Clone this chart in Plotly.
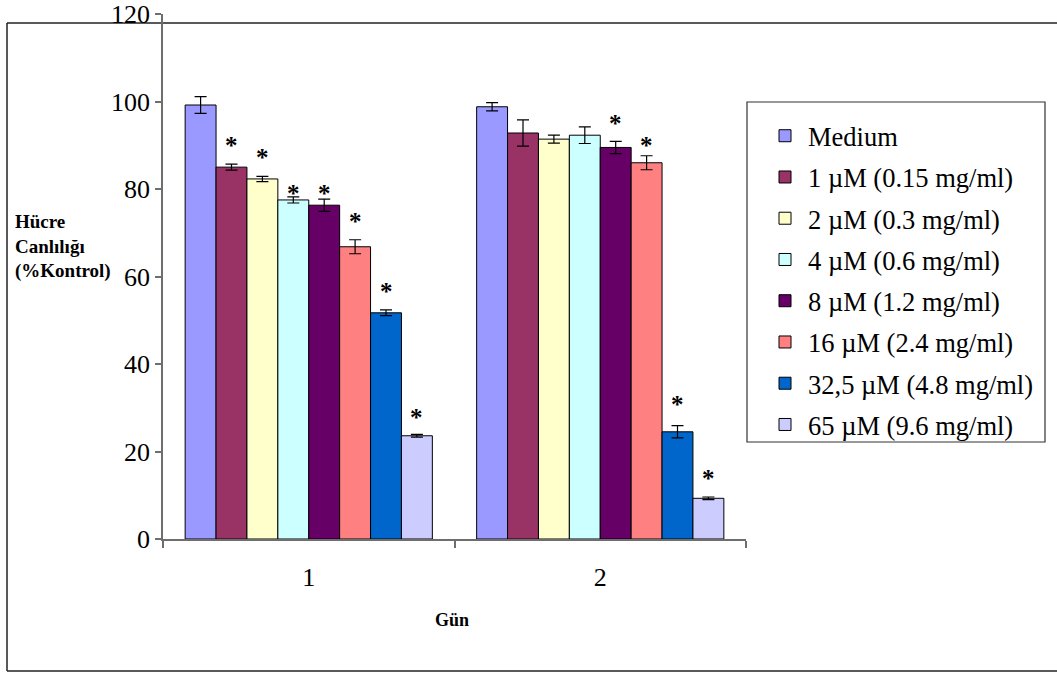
import plotly.graph_objects as go

# ---- data ----
days = [1, 2]
series_names = ["Medium", "1 µM (0.15 mg/ml)", "2 µM (0.3 mg/ml)", "4 µM (0.6 mg/ml)",
                "8 µM (1.2 mg/ml)", "16 µM (2.4 mg/ml)", "32,5 µM (4.8 mg/ml)", "65 µM (9.6 mg/ml)"]
values_day1 = [99.2, 85.0, 82.3, 77.5, 76.3, 66.8, 51.7, 23.6]
errors_day1 = [1.9, 0.7, 0.6, 0.7, 1.4, 1.6, 0.65, 0.3]
values_day2 = [98.8, 92.8, 91.4, 92.3, 89.5, 86.0, 24.5, 9.3]
errors_day2 = [0.95, 3.0, 0.9, 1.9, 1.4, 1.6, 1.4, 0.3]
# significance marks (*) : series index and label height
sig_day1_idx = [1, 2, 3, 4, 5, 6, 7]
sig_day1_y = [90.8, 88.2, 79.9, 79.9, 73.6, 57.6, 28.6]
sig_day2_idx = [4, 5, 6, 7]
sig_day2_y = [96.0, 90.8, 31.6, 14.7]
y_ticks = [0, 20, 40, 60, 80, 100, 120]

colors = ["#9999FF", "#993366", "#FFFFCC", "#CCFFFF", "#660066", "#FF8080", "#0066CC", "#CCCCFF"]

# ---- layout geometry (pixels) ----
W, H = 1057, 673
PL, PR, PT, PB = 163, 746, 14, 539
BARGAP = 0.152


def px_x(px):
    return (px - PL) / (PR - PL)


def px_y(py):
    return (PB - py) / (PB - PT)


SERIF = "Liberation Serif, Times New Roman, serif"

fig = go.Figure()
n = len(series_names)
for i, name in enumerate(series_names):
    fig.add_trace(go.Bar(
        x=days,
        y=[values_day1[i], values_day2[i]],
        name=name,
        legendgroup=name,
        marker=dict(color=colors[i], line=dict(color="#000000", width=1)),
        error_y=dict(type="data", array=[errors_day1[i], errors_day2[i]],
                     color="#000000", thickness=1.2, width=6),
    ))

w = (1 - BARGAP) / n
annotations = []
for day, idxs, ys in [(1, sig_day1_idx, sig_day1_y), (2, sig_day2_idx, sig_day2_y)]:
    for i, yv in zip(idxs, ys):
        annotations.append(dict(
            x=day + (i - (n - 1) / 2) * w, y=yv, xref="x", yref="y",
            text="<b>*</b>", showarrow=False, font=dict(family=SERIF, size=25, color="#000"),
            yshift=-4,
        ))

annotations.append(dict(
    x=px_x(13), y=px_y(246), xref="paper", yref="paper", xanchor="left", yanchor="middle",
    align="left", showarrow=False,
    text="<b>Hücre<br>Canlılığı<br>(%Kontrol)</b>",
    font=dict(family=SERIF, size=19, color="#000"),
))
annotations.append(dict(
    x=px_x(452), y=px_y(620), xref="paper", yref="paper", xanchor="center", yanchor="middle",
    showarrow=False, text="<b>Gün</b>", font=dict(family=SERIF, size=18, color="#000"),
))

border = dict(color="#222222", width=1.5)
shapes = [
    # outer chart frame (right side runs beyond the picture)
    dict(type="line", xref="paper", yref="paper", x0=px_x(7), x1=px_x(1250), y0=px_y(23), y1=px_y(23),
         line=border, layer="below"),
    dict(type="line", xref="paper", yref="paper", x0=px_x(7), x1=px_x(1250), y0=px_y(671), y1=px_y(671),
         line=border, layer="below"),
    dict(type="line", xref="paper", yref="paper", x0=px_x(7), x1=px_x(7), y0=px_y(23), y1=px_y(671),
         line=border, layer="below"),
    # legend frame
    dict(type="rect", xref="paper", yref="paper", x0=px_x(747), x1=px_x(1045), y0=px_y(102), y1=px_y(442),
         line=dict(color="#333333", width=1.2), fillcolor="rgba(0,0,0,0)", layer="below"),
]

fig.update_layout(
    width=W, height=H,
    margin=dict(l=PL, r=W - PR, t=PT, b=H - PB, pad=0, autoexpand=False),
    paper_bgcolor="white", plot_bgcolor="white",
    barmode="group", bargap=BARGAP, bargroupgap=0,
    showlegend=True,
    legend=dict(x=px_x(762), y=px_y(112), xanchor="left", yanchor="top",
                font=dict(family=SERIF, size=26.5, color="#000"),
                tracegroupgap=3.8, traceorder="grouped", itemwidth=36,
                bgcolor="rgba(0,0,0,0)", borderwidth=0),
    annotations=annotations,
    shapes=shapes,
    font=dict(family=SERIF, color="#000"),
)
fig.update_xaxes(
    range=[0.5, 2.5], tickvals=days, ticktext=[str(d) for d in days],
    ticks="outside", ticklen=14, tickcolor="rgba(0,0,0,0)", automargin=False,
    tickfont=dict(family=SERIF, size=26, color="#000"),
    minor=dict(tickvals=[0.5, 1.5, 2.5], ticks="outside", ticklen=7, tickcolor="#6e6e6e", tickwidth=1.5),
    showline=True, linecolor="#6e6e6e", linewidth=1.5, showgrid=False, zeroline=False,
)
fig.update_yaxes(
    range=[0, 120], tickvals=y_ticks, ticks="outside", ticklen=6, tickcolor="#6e6e6e", tickwidth=1.5,
    tickfont=dict(family=SERIF, size=26, color="#000"), automargin=False,
    showline=True, linecolor="#6e6e6e", linewidth=1.5, showgrid=False, zeroline=False,
)

fig.write_html("out.html", config={"displayModeBar": False},
               post_script="document.body.style.margin='0';document.body.style.overflow='hidden';")
